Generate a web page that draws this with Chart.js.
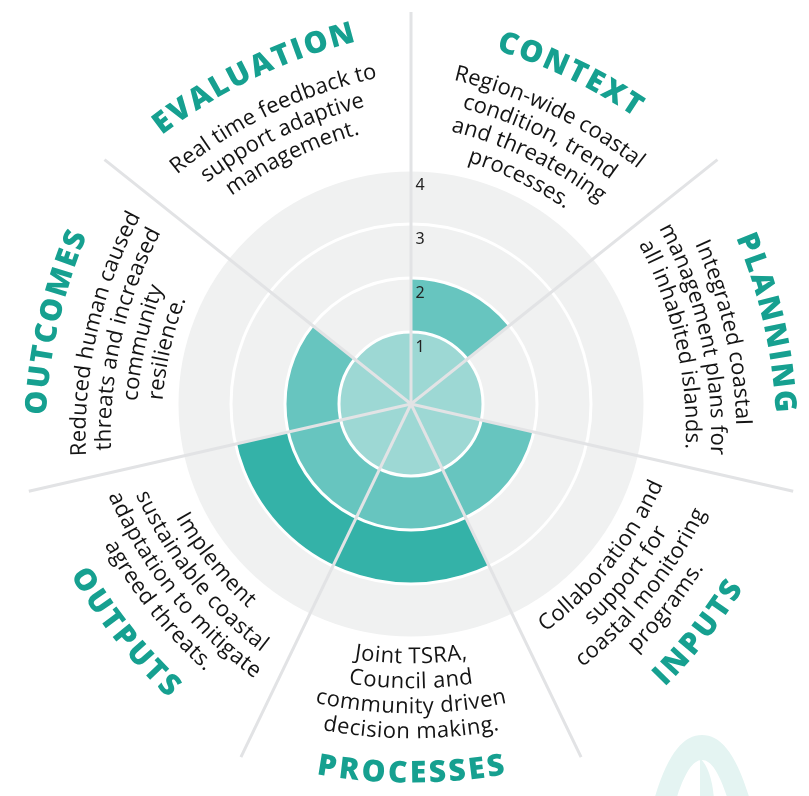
<!DOCTYPE html>
<html>
<head>
<meta charset="utf-8">
<script src="https://cdn.jsdelivr.net/npm/chart.js@4"></script>
<style>
  html, body { margin: 0; padding: 0; background: #ffffff; }
  #wrap { width: 809px; height: 796px; position: relative; }
</style>
</head>
<body>
<div id="wrap"><canvas id="wheel"></canvas></div>
<script>
// sectors, clockwise from the top
const categories = ['CONTEXT', 'PLANNING', 'INPUTS', 'PROCESSES', 'OUTPUTS', 'OUTCOMES', 'EVALUATION'];
const descriptions = [
  ['Region-wide coastal', 'condition, trend', 'and threatening', 'processes.'],
  ['Integrated coastal', 'management plans for', 'all inhabited islands.'],
  ['Collaboration and', 'support for', 'coastal monitoring', 'programs.'],
  ['Joint TSRA,', 'Council and', 'community driven', 'decision making.'],
  ['Implement', 'sustainable coastal', 'adaptation to mitigate', 'agreed threats.'],
  ['Reduced human caused', 'threats and increased', 'community', 'resilience.'],
  ['Real time feedback to', 'support adaptive', 'management.']
];
const scores = [2, 1, 2, 3, 3, 2, 1];
const maxScore = [4, 4, 4, 4, 4, 4, 4];
const tickValues = [1, 2, 3, 4];

const ringColors = ['#9dd8d4', '#67c5bf', '#34b2a8'];
const TEAL = '#16a090';

// one layer per level, stacked from the centre
const ringData = [1, 2, 3].map(level => scores.map(s => (s >= level ? level : 0)));

// text bent on a flatter arc than the wheel itself
function arcText(ctx, text, cx, cy, r, mid, flip, font, color, spacing) {
  const bend = 1.45;
  const R = r * bend;
  const ox = cx + (r - R) * Math.sin(mid);
  const oy = cy - (r - R) * Math.cos(mid);
  ctx.save();
  ctx.font = font;
  ctx.fillStyle = color;
  ctx.textAlign = 'center';
  ctx.textBaseline = 'middle';
  const chars = Array.from(text);
  const widths = chars.map(c => ctx.measureText(c).width + spacing);
  const total = widths.reduce((a, b) => a + b, 0) - spacing;
  let a = flip ? mid + total / (2 * R) : mid - total / (2 * R);
  chars.forEach((c, i) => {
    const w = widths[i];
    const ca = flip ? a - (w - spacing) / (2 * R) : a + (w - spacing) / (2 * R);
    ctx.save();
    ctx.translate(ox + R * Math.sin(ca), oy - R * Math.cos(ca));
    ctx.rotate(flip ? ca - Math.PI : ca);
    ctx.fillText(c, 0, 0);
    ctx.restore();
    a = flip ? a - w / R : a + w / R;
  });
  ctx.restore();
}

const sectorText = {
  id: 'sectorText',
  beforeDraw(chart) {
    // faint logo mark in the lower right corner
    const ctx = chart.ctx;
    ctx.save();
    ctx.fillStyle = '#e4f4f2';
    ctx.beginPath();
    ctx.moveTo(654, 800);
    ctx.bezierCurveTo(668, 752, 684, 735, 702, 735);
    ctx.bezierCurveTo(720, 735, 736, 752, 750, 800);
    ctx.lineTo(728, 800);
    ctx.bezierCurveTo(720, 775, 712, 760, 702, 760);
    ctx.bezierCurveTo(692, 760, 684, 775, 676, 800);
    ctx.closePath();
    ctx.fill();
    ctx.beginPath();
    ctx.moveTo(700, 758);
    ctx.quadraticCurveTo(712, 770, 714, 800);
    ctx.lineTo(700, 800);
    ctx.closePath();
    ctx.fill();
    ctx.restore();
  },
  afterDraw(chart) {
    const scale = chart.scales.r;
    const ctx = chart.ctx;
    const cx = scale.xCenter, cy = scale.yCenter;
    const step = 2 * Math.PI / categories.length;
    const titleR = scale.drawingArea - 22;
    categories.forEach((name, i) => {
      let mid = scale.getIndexAngle(i) + step / 2;
      mid = ((mid % (2 * Math.PI)) + 2 * Math.PI) % (2 * Math.PI);
      const flip = mid > Math.PI / 2 && mid < 3 * Math.PI / 2;
      arcText(ctx, name, cx, cy, titleR, mid, flip, '800 30px "Open Sans"', TEAL, 2.5);
      const lines = descriptions[i];
      lines.forEach((line, j) => {
        const k = flip ? lines.length - 1 - j : j;
        arcText(ctx, line, cx, cy, titleR - 42 - k * 25, mid, flip, '22px "Open Sans"', '#141414', 0.3);
      });
    });
  }
};

new Chart(document.getElementById('wheel'), {
  type: 'polarArea',
  data: {
    labels: categories,
    datasets: [
      { data: ringData[0], backgroundColor: ringColors[0], borderWidth: 0 },
      { data: ringData[1], backgroundColor: ringColors[1], borderWidth: 0 },
      { data: ringData[2], backgroundColor: ringColors[2], borderWidth: 0 },
      { data: maxScore, backgroundColor: '#f0f1f1', borderWidth: 0 }
    ]
  },
  options: {
    responsive: true,
    maintainAspectRatio: false,
    animation: false,
    layout: { padding: { left: 13, top: 12, right: 0, bottom: 0 } },
    plugins: {
      legend: { display: false },
      tooltip: { enabled: false }
    },
    scales: {
      r: {
        min: -1 / 3,
        max: 6.926,
        startAngle: 0,
        afterBuildTicks: s => { s.ticks = tickValues.map(v => ({ value: v })); },
        grid: { circular: true, color: '#ffffff', lineWidth: 3, z: 1 },
        angleLines: { display: true, color: '#e2e3e5', lineWidth: 3 },
        pointLabels: { display: false },
        ticks: {
          z: 2,
          showLabelBackdrop: false,
          backdropPadding: -8,
          color: '#222222',
          font: { family: 'Noto Sans', size: 16, lineHeight: '15px' },
          callback: v => ['', '\u2007\u2007' + v]
        }
      }
    }
  },
  plugins: [sectorText]
});
</script>
</body>
</html>
